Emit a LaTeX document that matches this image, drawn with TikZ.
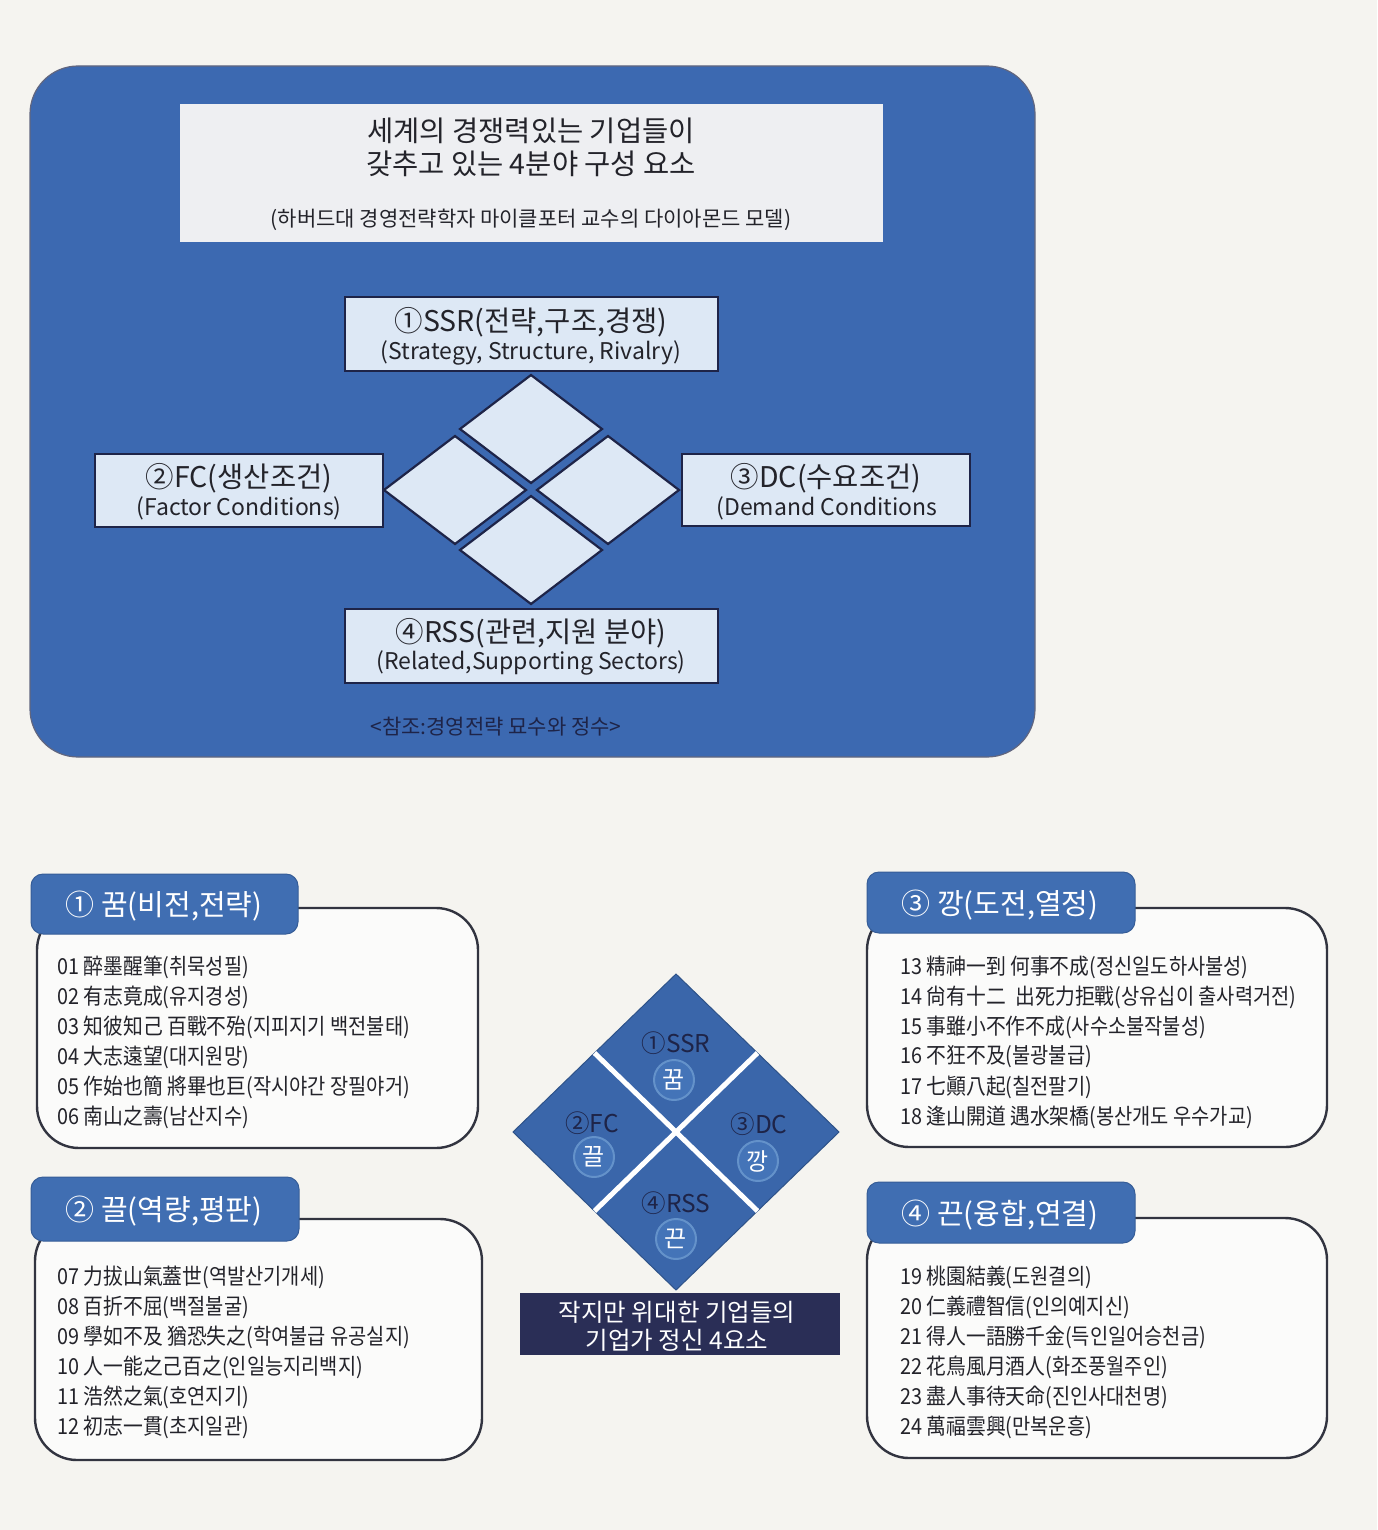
\documentclass[tikz,border=0pt]{standalone}
\usepackage{fontspec}
\setmainfont{Noto Sans CJK KR}
\newfontfamily\narrowfont{Noto Sans CJK KR}[FakeStretch=0.9]
\definecolor{paper}{RGB}{245,244,240}
\definecolor{bigblue}{RGB}{60,105,177}
\definecolor{tabblue}{RGB}{64,110,178}
\definecolor{diablue}{RGB}{58,102,170}
\definecolor{navy}{RGB}{30,36,72}
\definecolor{lightbox}{RGB}{221,232,245}
\definecolor{titlebg}{RGB}{238,239,242}
\definecolor{capbg}{RGB}{42,46,86}
\definecolor{listbg}{RGB}{251,251,250}
\definecolor{listedge}{RGB}{50,52,64}
\definecolor{txt}{RGB}{35,35,42}
\definecolor{circfill}{RGB}{68,116,184}
\definecolor{circring}{RGB}{100,146,202}
\newcommand\fsz[1]{\fontsize{#1}{#1}\selectfont}
\tikzset{
  lbox/.style={draw=navy, line width=1.6, fill=lightbox, inner sep=0},
  lightdia/.style={draw=navy, line width=2.2, fill=lightbox, line join=miter},
  boxtxtA/.style={font=\fsz{28.5}, text=txt, inner sep=0},
  boxtxtB/.style={font=\fsz{23}, text=txt, inner sep=0},
  listbox/.style={draw=listedge, line width=2.4, fill=listbg, rounded corners=42},
  tabbox/.style={draw=tabblue!85!black, line width=1, fill=tabblue, rounded corners=12},
  tabtxt/.style={font=\fsz{29}, text=white, inner sep=0},
  item/.style={font=\narrowfont\fsz{22}, text=txt, anchor=west, inner sep=0},
  dlabel/.style={font=\fsz{24.5}, text=navy, inner sep=0},
  dcircle/.style={circle, minimum size=40, fill=circfill, draw=circring, line width=2, text=white, font=\fsz{24}, inner sep=0},
  captxt/.style={font=\fsz{24.5}, text=white, inner sep=0}
}
\begin{document}
\begin{tikzpicture}[x=1pt,y=-1pt]
\fill[paper] (0,0) rectangle (1377,1530);
\useasboundingbox (0,0) rectangle (1377,1530);

% ---------- top panel ----------
\draw[fill=bigblue, draw=navy!70, line width=1.2, rounded corners=48] (30,66) rectangle (1035,757);

\node[fill=titlebg, minimum width=703, minimum height=138, inner sep=0] (title) at (531.5,173) {};
\node[font=\fsz{28.5}, text=txt, inner sep=0] (t1) at (531,131) {세계의 경쟁력있는 기업들이};
\node[font=\fsz{28.5}, text=txt, inner sep=0] (t2) at (531,164) {갖추고 있는 4분야 구성 요소};
\node[font=\fsz{21}, text=txt, inner sep=0] (t3) at (531,220) {(하버드대 경영전략학자 마이클포터 교수의 다이아몬드 모델)};

\node[lbox, minimum width=373, minimum height=74] (ssr) at (531.5,334) {};
\node[boxtxtA] (ssr1) at (531,322) {①SSR(전략,구조,경쟁)};
\node[boxtxtB] (ssr2) at (531,353) {(Strategy, Structure, Rivalry)};

\node[lbox, minimum width=288, minimum height=73] (fc) at (239,490.5) {};
\node[boxtxtA] (fc1) at (239,478) {②FC(생산조건)};
\node[boxtxtB] (fc2) at (239,508) {(Factor Conditions)};

\node[lbox, minimum width=288, minimum height=72] (dc) at (826,490) {};
\node[boxtxtA] (dc1) at (826,478) {③DC(수요조건)};
\node[boxtxtB] (dc2) at (827,508) {(Demand Conditions};

\node[lbox, minimum width=373, minimum height=74] (rss) at (531.5,646) {};
\node[boxtxtA] (rss1) at (531,633) {④RSS(관련,지원 분야)};
\node[boxtxtB] (rss2) at (531,663) {(Related,Supporting Sectors)};

% diamond cluster
\draw[lightdia] (531,375) -- (602,429) -- (531,483) -- (460,429) -- cycle;
\draw[lightdia] (455,436) -- (526,490) -- (455,544) -- (384,490) -- cycle;
\draw[lightdia] (608,436) -- (679,490) -- (608,544) -- (537,490) -- cycle;
\draw[lightdia] (531,496) -- (602,550) -- (531,604) -- (460,550) -- cycle;

\node[font=\fsz{21}, text=navy, inner sep=0] (ref) at (496,727) {<참조:경영전략 묘수와 정수>};

% ---------- bottom lists ----------
% box 1
\draw[listbox] (37,908) rectangle (478,1148);
\draw[tabbox] (31,874) rectangle (298,934);
\node[tabtxt] (tab1) at (164,906) {① 꿈(비전,전략)};
\node[item] (i01) at (57,967) {01 醉墨醒筆(취묵성필)};
\node[item] (i02) at (57,997) {02 有志竟成(유지경성)};
\node[item] (i03) at (57,1027) {03 知彼知己 百戰不殆(지피지기 백전불태)};
\node[item] (i04) at (57,1057) {04 大志遠望(대지원망)};
\node[item] (i05) at (57,1087) {05 作始也簡 將畢也巨(작시야간 장필야거)};
\node[item] (i06) at (57,1117) {06 南山之壽(남산지수)};

% box 2
\draw[listbox] (35,1219) rectangle (482,1460);
\draw[tabbox] (31,1177) rectangle (299,1241);
\node[tabtxt] (tab2) at (164,1211) {② 끌(역량,평판)};
\node[item] (i07) at (57,1277) {07 力拔山氣蓋世(역발산기개세)};
\node[item] (i08) at (57,1307) {08 百折不屈(백절불굴)};
\node[item] (i09) at (57,1337) {09 學如不及 猶恐失之(학여불급 유공실지)};
\node[item] (i10) at (57,1367) {10 人一能之己百之(인일능지리백지)};
\node[item] (i11) at (57,1397) {11 浩然之氣(호연지기)};
\node[item] (i12) at (57,1427) {12 初志一貫(초지일관)};

% box 3
\draw[listbox] (867,908) rectangle (1327,1147);
\draw[tabbox] (867,872) rectangle (1135,933);
\node[tabtxt] (tab3) at (1000,905) {③ 깡(도전,열정)};
\node[item] (i13) at (900,967) {13 精神一到 何事不成(정신일도하사불성)};
\node[item] (i14) at (900,997) {14 尙有十二\hspace{0.45em}出死力拒戰(상유십이 출사력거전)};
\node[item] (i15) at (900,1027) {15 事雖小不作不成(사수소불작불성)};
\node[item] (i16) at (900,1057) {16 不狂不及(불광불급)};
\node[item] (i17) at (900,1087) {17 七顚八起(칠전팔기)};
\node[item] (i18) at (900,1117) {18 逢山開道 遇水架橋(봉산개도 우수가교)};

% box 4
\draw[listbox] (867,1218) rectangle (1327,1458);
\draw[tabbox] (867,1182) rectangle (1135,1243);
\node[tabtxt] (tab4) at (1000,1215) {④ 끈(융합,연결)};
\node[item] (i19) at (900,1277) {19 桃園結義(도원결의)};
\node[item] (i20) at (900,1307) {20 仁義禮智信(인의예지신)};
\node[item] (i21) at (900,1337) {21 得人一語勝千金(득인일어승천금)};
\node[item] (i22) at (900,1367) {22 花鳥風月酒人(화조풍월주인)};
\node[item] (i23) at (900,1397) {23 盡人事待天命(진인사대천명)};
\node[item] (i24) at (900,1427) {24 萬福雲興(만복운흥)};

% ---------- small diamond ----------
\draw[fill=diablue, draw=diablue!80!black, line width=1] (676,974) -- (839,1132) -- (676,1290) -- (513,1132) -- cycle;
\draw[white, line width=5] (594.5,1053) -- (757.5,1211);
\draw[white, line width=5] (757.5,1053) -- (594.5,1211);

\node[dlabel] (dssr) at (676,1043) {①SSR};
\node[dcircle] (c1) at (674,1080) {꿈};
\node[dlabel] (dfc) at (592,1123) {②FC};
\node[dcircle] (c2) at (594,1157) {끌};
\node[dlabel] (ddc) at (759,1124) {③DC};
\node[dcircle] (c3) at (758,1161) {깡};
\node[dlabel] (drss) at (676,1203) {④RSS};
\node[dcircle] (c4) at (676,1239) {끈};

\node[fill=capbg, minimum width=320, minimum height=62, inner sep=0] (cap) at (680,1324) {};
\node[captxt] (cap1) at (677,1312) {작지만 위대한 기업들의};
\node[captxt] (cap2) at (677,1340) {기업가 정신 4요소};
\end{tikzpicture}
\end{document}
